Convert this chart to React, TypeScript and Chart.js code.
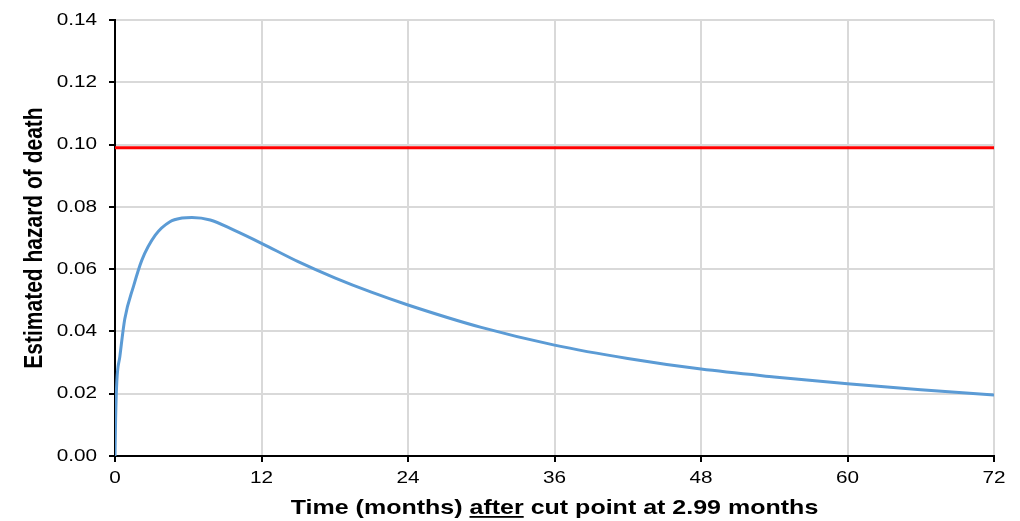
import React, { useEffect, useRef } from "react";
import { Chart, registerables } from "chart.js";

Chart.register(...registerables);

const hazardTimes = [0, 0.05, 0.15, 0.4, 0.8, 1.5, 2.2, 3.3, 4.5, 5.5, 6.3, 7.8, 9.7, 12, 15, 18, 21, 24, 30, 36, 42, 48, 54, 60, 66, 72];
const hazardValues = [0, 0.012, 0.024, 0.032, 0.044, 0.0543, 0.0629, 0.0709, 0.0752, 0.0764, 0.0766, 0.0758, 0.0726, 0.0683, 0.0624, 0.0572, 0.0526, 0.0485, 0.0413, 0.0356, 0.0313, 0.0279, 0.0254, 0.0232, 0.0213, 0.0196];
const cutHazardTimes = [0, 72];
const cutHazardValues = [0.099, 0.099];
const xTicks = [0, 12, 24, 36, 48, 60, 72];
const yTicks = [0, 0.02, 0.04, 0.06, 0.08, 0.1, 0.12, 0.14];

const xTitleParts = ["Time (months) ", "after", " cut point at 2.99 months"];
const yTitle = "Estimated hazard of death";

const FONT = "Arial, 'Liberation Sans', sans-serif";
const STRETCH = 1.22;

const textPlugin = {
  id: "stretchedText",
  afterDraw(chart: any) {
    const ctx = chart.ctx;
    const area = chart.chartArea;
    const xs = chart.scales.x;
    const ys = chart.scales.y;
    ctx.save();
    ctx.fillStyle = "#000";

    // y tick labels
    ctx.font = `17px ${FONT}`;
    ctx.textAlign = "right";
    ctx.textBaseline = "middle";
    yTicks.forEach((v) => {
      const py = ys.getPixelForValue(v);
      ctx.save();
      ctx.translate(area.left - 18, py);
      ctx.scale(STRETCH, 1);
      ctx.fillText(v.toFixed(2), 0, 0);
      ctx.restore();
    });

    // x tick labels
    ctx.textAlign = "center";
    xTicks.forEach((v) => {
      const px = xs.getPixelForValue(v);
      ctx.save();
      ctx.translate(px, area.bottom + 22);
      ctx.scale(STRETCH, 1);
      ctx.fillText(String(v), 0, 0);
      ctx.restore();
    });

    // x title with underlined word
    ctx.font = `bold 20.5px ${FONT}`;
    ctx.textAlign = "left";
    ctx.textBaseline = "alphabetic";
    const widths = xTitleParts.map((p) => ctx.measureText(p).width);
    const total = widths.reduce((a, b) => a + b, 0);
    ctx.save();
    ctx.translate((area.left + area.right) / 2, area.bottom + 58);
    ctx.scale(STRETCH, 1);
    let x = -total / 2;
    xTitleParts.forEach((p, i) => {
      ctx.fillText(p, x, 0);
      if (i === 1) ctx.fillRect(x, 2, widths[i], 1.8);
      x += widths[i];
    });
    ctx.restore();

    // y title
    ctx.font = `bold 21px ${FONT}`;
    ctx.textAlign = "center";
    ctx.textBaseline = "alphabetic";
    ctx.save();
    ctx.translate(area.left - 73, (area.top + area.bottom) / 2);
    ctx.scale(STRETCH, 1);
    ctx.rotate(-Math.PI / 2);
    ctx.fillText(yTitle, 0, 0);
    ctx.restore();

    ctx.restore();
  },
};

export default function App() {
  const ref = useRef<HTMLCanvasElement | null>(null);
  useEffect(() => {
    const canvas = ref.current;
    if (!canvas) return;
    const chart = new Chart(canvas, {
      type: "line",
      data: {
        datasets: [
          {
            label: "Cut point hazard",
            data: cutHazardTimes.map((t, i) => ({ x: t, y: cutHazardValues[i] })),
            borderColor: "#ff0000",
            borderWidth: 3,
            pointRadius: 0,
            fill: false,
          },
          {
            label: "Estimated hazard",
            data: hazardTimes.map((t, i) => ({ x: t, y: hazardValues[i] })),
            borderColor: "#5b9bd5",
            borderWidth: 3,
            pointRadius: 0,
            fill: false,
            cubicInterpolationMode: "monotone",
          },
        ],
      },
      options: {
        animation: false,
        responsive: false,
        maintainAspectRatio: false,
        layout: { padding: { top: 20, right: 26, left: 109, bottom: 59 } },
        plugins: { legend: { display: false }, tooltip: { enabled: false } },
        scales: {
          x: {
            type: "linear",
            min: 0,
            max: 72,
            afterBuildTicks: (s: any) => {
              s.ticks = xTicks.map((v) => ({ value: v }));
            },
            ticks: { display: false },
            grid: { color: "#d9d9d9", lineWidth: 2, tickColor: "#000", tickLength: 6, tickWidth: 2 },
            border: { color: "#000", width: 2 },
            title: { display: false },
          },
          y: {
            min: 0,
            max: 0.14,
            afterBuildTicks: (s: any) => {
              s.ticks = yTicks.map((v) => ({ value: v }));
            },
            ticks: { display: false },
            grid: { color: "#d9d9d9", lineWidth: 2, tickColor: "#000", tickLength: 6, tickWidth: 2 },
            border: { color: "#000", width: 2 },
            title: { display: false },
          },
        },
      },
      plugins: [textPlugin],
    } as any);
    return () => chart.destroy();
  }, []);
  return (
    <div style={{ position: "fixed", left: 0, top: 0, width: 1020, height: 521, background: "#fff" }}>
      <canvas ref={ref} width={1020} height={521} style={{ width: 1020, height: 521 }} />
    </div>
  );
}
